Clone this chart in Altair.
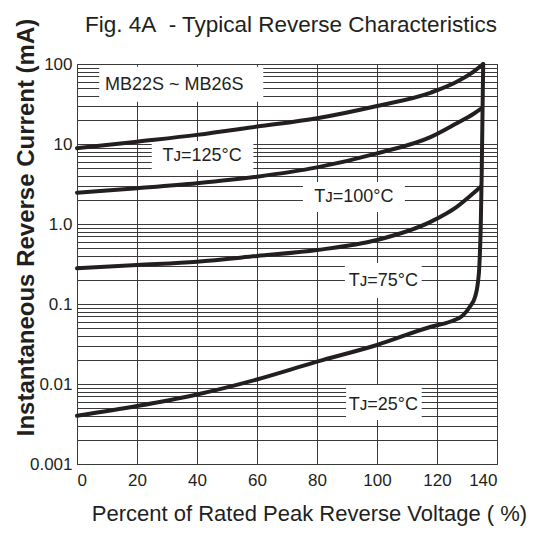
import altair as alt
import pandas as pd

# ---------------- data ----------------
x_125 = [0, 20, 40, 60, 80, 100, 118, 126.6, 132.1, 135.4]
y_125 = [8.85, 10.7, 13.0, 16.5, 21.0, 29.9, 44.0, 60.0, 80.0, 100.0]

x_100 = [0, 20, 40, 60, 80, 100, 118, 126.6, 132.1, 134.9]
y_100 = [2.46, 2.8, 3.23, 3.9, 5.1, 7.65, 12.3, 18.2, 23.7, 27.9]

x_75 = [0, 20, 40, 60, 80, 100, 118, 126.6, 132.1, 134.6]
y_75 = [0.279, 0.307, 0.338, 0.398, 0.473, 0.63, 1.07, 1.64, 2.42, 2.92]

x_25 = [0, 20, 40, 60, 80, 100, 118, 124.3, 128.8, 131, 132.7, 133.6, 134.1, 134.6, 134.9, 135.2, 135.4]
y_25 = [0.0040, 0.0053, 0.0074, 0.0114, 0.019, 0.0307, 0.052, 0.060, 0.073, 0.093,
        0.123, 0.18, 0.29, 1.0, 4.3, 29.0, 100.0]

series_names = ["125", "100", "75", "25"]

x_ticks = [0, 20, 40, 60, 80, 100, 120, 140]
decades = [0.001, 0.01, 0.1, 1, 10, 100]
decade_labels = ["0.001", "0.01", "0.1", "1.0", "10", "100"]

# annotation labels (text, anchor x, anchor y) and their white boxes
ann_text = ["MB22S ~ MB26S", "T\u1d0a=125\u00b0C", "T\u1d0a=100\u00b0C", "T\u1d0a=75\u00b0C", "T\u1d0a=25\u00b0C"]
ann_x = [32.4, 41.7, 92.3, 102.1, 102.1]
ann_y = [54.6, 6.98, 2.18, 0.194, 0.00546]
box_x1 = [7.4, 24.9, 75.3, 89.3, 89.7]
box_x2 = [62.1, 58.8, 109.3, 114.9, 114.9]
box_y1 = [33.8, 4.73, 1.41, 0.119, 0.00355]
box_y2 = [92.5, 10.9, 3.35, 0.325, 0.00971]

# ---------------- tables ----------------
rows = []
for name, xs, ys in zip(series_names, [x_125, x_100, x_75, x_25], [y_125, y_100, y_75, y_25]):
    for i, (a, b) in enumerate(zip(xs, ys)):
        rows.append({"series": name, "order": i, "v": a, "cur": b})
curves = pd.DataFrame(rows)

ann = pd.DataFrame({"text": ann_text, "x": ann_x, "y": ann_y,
                    "x1": box_x1, "x2": box_x2, "y1": box_y1, "y2": box_y2})

grid_vals = sorted({round(m * d, 6) for d in decades[:-1] for m in range(1, 10)} | {100})

label_expr = ""
for d, lab in zip(decades, decade_labels):
    label_expr += f"datum.value == {d} ? '{lab}' : "
label_expr += "''"

FONT = "Liberation Sans, Arial, Helvetica, sans-serif"
TXT = "#231f20"
GRID = "#3a3a3a"

x_scale = alt.Scale(domain=[0, 140], nice=False, zero=False)
y_scale = alt.Scale(type="log", domain=[0.001, 100], nice=False)

x_axis = alt.Axis(values=x_ticks, grid=True, gridColor=GRID, gridWidth=1, gridOpacity=1,
                  ticks=False, domain=False, labelFont=FONT, labelFontSize=17,
                  labelColor=TXT, labelPadding=8, labelOverlap=False,
                  title="Percent of Rated Peak Reverse Voltage ( %)", titleFont=FONT,
                  titleFontSize=22, titleFontWeight="normal", titleColor=TXT,
                  titleX=232, titleY=56, titleBaseline="alphabetic", titleAlign="center")

y_axis = alt.Axis(values=grid_vals, labelExpr=label_expr, grid=True, gridColor=GRID,
                  gridWidth=1, gridOpacity=1, ticks=False, domain=False,
                  labelFont=FONT, labelFontSize=17, labelColor=TXT, labelPadding=5,
                  labelOverlap=False, labelBound=False, labelFlush=False,
                  title="Instantaneous Reverse Current (mA)", titleFont=FONT,
                  titleFontSize=24, titleFontWeight="bold", titleColor=TXT,
                  titleAngle=-90, titleX=-44, titleY=163, titleBaseline="alphabetic",
                  titleAlign="center")

base_x = alt.X("v:Q", scale=x_scale, axis=x_axis)
base_y = alt.Y("cur:Q", scale=y_scale, axis=y_axis)

boxes = alt.Chart(ann).mark_rect(color="white", opacity=1).encode(
    x=alt.X("x1:Q", scale=x_scale, axis=x_axis),
    x2="x2:Q",
    y=alt.Y("y1:Q", scale=y_scale, axis=y_axis),
    y2="y2:Q",
)

texts = alt.Chart(ann).mark_text(font=FONT, fontSize=18, color=TXT, align="center",
                                 baseline="middle").encode(
    x=alt.X("x:Q", scale=x_scale, axis=x_axis),
    y=alt.Y("y:Q", scale=y_scale, axis=y_axis),
    text="text:N",
)

lines = alt.Chart(curves).mark_line(interpolate="monotone", strokeWidth=4, color=TXT,
                                    strokeCap="round", strokeJoin="round").encode(
    x=base_x, y=base_y, detail="series:N", order="order:Q",
)

chart = alt.layer(boxes, texts, lines).properties(
    width=420, height=400,
    title=alt.TitleParams("Fig. 4A\u00a0\u00a0- Typical Reverse Characteristics", font=FONT,
                          fontSize=22.5, fontWeight="normal", color=TXT, anchor="middle",
                          frame="group", dx=4, offset=-36, baseline="alphabetic"),
    autosize=alt.AutoSizeParams(type="none"),
    padding={"left": 69, "top": 56, "right": 35, "bottom": 62},
    background="white",
).configure_view(stroke=GRID, strokeWidth=1)

chart.save("out.html", embed_options={"renderer": "svg", "actions": False})
